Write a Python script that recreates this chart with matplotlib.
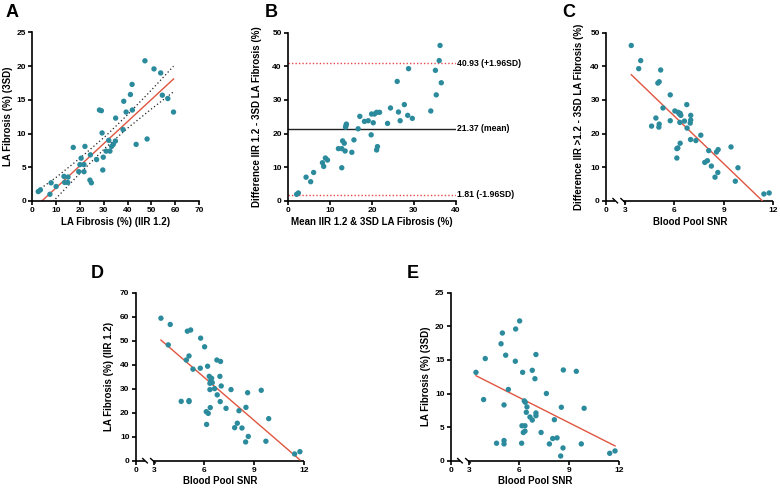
import matplotlib
matplotlib.use('Agg')
import matplotlib.pyplot as plt

# A: IIR 1.2 vs 3SD fibrosis
a_iir = [2.5, 3.4, 7.4, 7.9, 10.0, 13.3, 13.6, 14.9, 15.0, 17.2, 19.5, 20.5, 20.0, 21.7, 21.7, 22.1,
         24.4, 24.2, 24.8, 27.0, 28.2, 29.0, 29.3, 29.6, 29.8, 31.0, 32.1, 32.6, 33.3, 34.0, 34.9,
         35.0, 38.1, 38.4, 39.4, 41.2, 41.9, 42.0, 43.6, 47.3, 48.2, 51.1, 53.9, 54.6, 56.9, 59.3]
a_3sd = [1.4, 1.65, 1.0, 2.7, 2.15, 3.65, 2.75, 2.75, 3.55, 7.95, 4.35, 6.35, 5.4, 5.4, 4.35, 8.1,
         6.85, 3.1, 2.7, 6.15, 13.5, 13.4, 10.1, 4.6, 6.5, 7.4, 9.0, 7.4, 8.1, 8.4, 8.9,
         12.3, 10.6, 14.8, 13.2, 15.8, 17.3, 13.5, 8.4, 20.8, 9.2, 19.6, 19.0, 15.7, 15.2, 13.2]
a_fit_x = [4.0, 59.3]
a_fit_y = [0.0, 18.1]
a_band_x = [3.5, 10, 20, 31, 40, 50, 59.3]
a_band_hi = [1.85, 3.5, 6.35, 9.7, 12.8, 16.45, 20.0]
a_band_lo = [-2.2, 0.4, 4.1, 8.0, 10.8, 13.65, 16.2]

# B: Bland-Altman
b_mean = [2.06, 2.46, 4.3, 5.4, 6.1, 8.2, 8.5, 8.9, 9.4, 12.0, 12.8, 13.0, 13.4, 12.8, 13.6, 13.7,
          13.9, 13.8, 15.2, 15.7, 16.7, 17.1, 18.2, 19.1, 19.8, 19.9, 20.3, 20.6, 21.1, 21.8, 21.1,
          21.3, 23.7, 24.4, 26.0, 26.3, 26.7, 27.7, 28.5, 28.7, 29.6, 34.0, 35.1, 35.3, 36.0, 36.2, 36.5]
b_diff = [1.9, 2.3, 7.0, 5.65, 8.4, 11.3, 10.2, 12.7, 12.1, 15.5, 9.8, 17.8, 17.1, 15.5, 14.8, 21.9,
          22.8, 22.3, 14.4, 18.1, 21.4, 25.1, 23.6, 23.8, 19.6, 25.8, 23.2, 25.8, 26.3, 26.3, 15.1,
          16.1, 23.0, 27.6, 35.5, 26.4, 23.8, 28.6, 25.4, 39.3, 24.5, 26.7, 38.8, 31.5, 41.7, 46.2, 35.1]
b_lines = [40.93, 21.37, 1.81]
b_labels = ['40.93 (+1.96SD)', '21.37 (mean)', '1.81 (-1.96SD)']

# C: SNR vs difference
c_snr = [3.40, 3.97, 3.85, 5.18, 5.01, 5.09, 5.76, 5.32, 4.89, 4.63, 5.09, 5.07, 5.76, 6.04, 6.24,
         6.36, 6.40, 6.32, 6.76, 7.0, 7.0, 6.97, 6.62, 6.34, 6.78, 6.99, 7.31, 7.61, 6.36, 6.22,
         6.16, 6.16, 8.09, 9.44, 8.01, 7.85, 8.66, 8.56, 8.25, 8.64, 8.47, 9.86, 9.70, 11.43, 11.75]
c_diff = [46.2, 41.7, 39.3, 38.9, 35.0, 35.4, 31.5, 27.6, 24.6, 22.2, 22.8, 21.9, 23.8, 26.7, 26.3,
          26.0, 25.4, 25.8, 28.6, 25.4, 24.0, 23.1, 23.7, 23.3, 21.6, 18.2, 17.9, 19.5, 17.1, 15.7,
          15.5, 12.7, 14.9, 16.0, 11.9, 11.4, 15.2, 14.5, 10.3, 8.4, 7.0, 9.8, 5.8, 2.0, 2.3]
c_fit_x = [3.40, 11.33]
c_fit_y = [37.5, 0.0]

# D: SNR vs IIR 1.2
d_snr = [3.39, 3.95, 3.83, 4.98, 5.18, 5.78, 6.02, 4.92, 5.08, 5.32, 5.76, 6.20, 6.76, 6.98, 6.30,
         6.44, 6.38, 6.34, 6.48, 6.94, 7.02, 6.34, 6.62, 6.78, 6.96, 7.61, 8.61, 9.43, 4.61, 5.08,
         5.08, 6.36, 7.31, 8.09, 8.51, 6.12, 6.24, 6.14, 7.99, 7.83, 8.27, 9.88, 8.65, 8.49, 9.71,
         11.44, 11.76]
d_iir = [59.3, 56.7, 48.2, 53.9, 54.4, 51.0, 47.4, 41.9, 43.6, 38.1, 38.5, 39.3, 41.9, 41.3, 35.1,
         34.3, 33.2, 32.2, 32.5, 35.1, 31.1, 29.6, 30.0, 27.4, 24.6, 29.6, 28.3, 29.3, 24.7, 25.0,
         24.6, 22.1, 21.8, 20.8, 22.2, 20.4, 19.7, 15.1, 15.6, 13.75, 13.6, 17.5, 10.1, 7.8, 8.1,
         2.8, 3.75]
d_fit_x = [3.39, 11.75]
d_fit_y = [50.2, 0.4]

# E: SNR vs 3SD
e_snr = [3.39, 3.95, 3.85, 4.98, 4.90, 5.18, 5.78, 6.02, 5.76, 5.34, 5.08, 4.63, 5.08, 5.08, 6.20,
         6.78, 7.0, 6.94, 7.63, 8.65, 9.43, 6.30, 6.36, 6.46, 6.42, 6.64, 6.78, 7.0, 7.0, 6.34,
         6.16, 6.34, 6.24, 6.14, 7.31, 8.11, 8.53, 9.90, 8.01, 8.27, 7.81, 8.63, 8.49, 9.73, 11.44, 11.76]
e_3sd = [13.15, 15.2, 9.1, 19.0, 17.4, 15.7, 19.6, 20.8, 14.8, 10.6, 8.3, 2.6, 3.0, 2.5, 13.15,
         13.45, 15.8, 12.2, 10.0, 13.5, 13.3, 8.9, 8.7, 8.0, 7.2, 6.5, 6.05, 7.1, 6.7, 5.2,
         5.2, 4.4, 4.2, 2.6, 4.2, 6.1, 7.95, 7.8, 3.3, 3.4, 2.5, 1.9, 0.7, 2.5, 1.1, 1.45]
e_fit_x = [3.39, 11.76]
e_fit_y = [12.65, 2.2]

snr_ticks = ['0', '3', '6', '9', '12']

plt.rcParams['font.family'] = ['Liberation Sans', 'DejaVu Sans']
plt.rcParams['font.weight'] = 'bold'

W, H = 780, 492
DOT = '#2b8b9d'
RED = '#e0553f'
SPINE = 1.2
fig = plt.figure(figsize=(W / 100, H / 100), dpi=100)


def box(x0, x1, ytop, ybot):
    return [x0 / W, 1 - ybot / H, (x1 - x0) / W, (ybot - ytop) / H]


def ftext(x, y, s, **kw):
    fig.text(x / W, 1 - y / H, s, ha='center', va='center', **kw)


def style(ax):
    for s in ['top', 'right']:
        ax.spines[s].set_visible(False)
    for s in ['left', 'bottom']:
        ax.spines[s].set_linewidth(SPINE)
    ax.tick_params(width=SPINE, length=3, labelsize=6, pad=1.5)


def snr_axis(ax):
    # broken x axis like Prism: 0 then // then 3..12
    x0 = 1.87
    ax.set_xlim(x0, 12)
    ax.set_xticks([x0, 3, 6, 9, 12])
    ax.set_xticklabels(snr_ticks)
    ax.spines['bottom'].set_visible(False)
    tr = ax.get_xaxis_transform()
    ax.plot([x0, 2.43], [0, 0], transform=tr, color='k', lw=SPINE, clip_on=False, solid_capstyle='butt')
    ax.plot([2.91, 12], [0, 0], transform=tr, color='k', lw=SPINE, clip_on=False, solid_capstyle='butt')
    for xb in (2.43, 2.91):
        ax.plot([xb - 0.14, xb + 0.14], [0.013, -0.013], transform=tr, color='k', lw=1.0, clip_on=False)


def dots(ax, x, y):
    ax.scatter(x, y, s=15, color=DOT, edgecolors='none', zorder=3, clip_on=False)


# panel A
ax = fig.add_axes(box(32.3, 199, 32.5, 201))
style(ax)
ax.plot(a_band_x, a_band_hi, color='#222222', lw=0.9, ls=(0, (1, 2)))
ax.plot(a_band_x, a_band_lo, color='#222222', lw=0.9, ls=(0, (1, 2)))
ax.plot(a_fit_x, a_fit_y, color=RED, lw=1.0)
dots(ax, a_iir, a_3sd)
ax.set_xlim(0, 70)
ax.set_ylim(0, 25)
ax.set_xticks(range(0, 71, 10))
ax.set_yticks(range(0, 26, 5))

# panel B
ax = fig.add_axes(box(288, 456, 32.7, 200.7))
style(ax)
ax.axhline(b_lines[0], color='#e8474a', lw=1.0, ls=(0, (1, 1.5)))
ax.axhline(b_lines[1], color='#222222', lw=1.0)
ax.axhline(b_lines[2], color='#e8474a', lw=1.0, ls=(0, (1, 1.5)))
for v, s in zip(b_lines, b_labels):
    ax.text(40.2, v, s, fontsize=6.2, va='center', ha='left', clip_on=False)
dots(ax, b_mean, b_diff)
ax.set_xlim(0, 40)
ax.set_ylim(0, 50)
ax.set_xticks(range(0, 41, 10))
ax.set_yticks(range(0, 51, 10))

# panel C
ax = fig.add_axes(box(606, 773.3, 32.7, 200.7))
style(ax)
snr_axis(ax)
ax.plot(c_fit_x, c_fit_y, color=RED, lw=1.0)
dots(ax, c_snr, c_diff)
ax.set_ylim(0, 50)
ax.set_yticks(range(0, 51, 10))

# panel D
ax = fig.add_axes(box(135.7, 303.9, 292.5, 460.7))
style(ax)
snr_axis(ax)
ax.plot(d_fit_x, d_fit_y, color=RED, lw=1.0)
dots(ax, d_snr, d_iir)
ax.set_ylim(0, 70)
ax.set_yticks(range(0, 71, 10))

# panel E
ax = fig.add_axes(box(450.7, 619.0, 292.7, 460.7))
style(ax)
snr_axis(ax)
ax.plot(e_fit_x, e_fit_y, color=RED, lw=1.0)
dots(ax, e_snr, e_3sd)
ax.set_ylim(0, 25)
ax.set_yticks(range(0, 26, 5))

# axis titles
lab = dict(fontsize=7, fontweight='bold')
ftext(115.6, 222, 'LA Fibrosis (%) (IIR 1.2)', **lab)
ftext(8, 116.7, 'LA Fibrosis (%) (3SD)', rotation=90, **lab)
ftext(372, 222, 'Mean IIR 1.2 & 3SD LA Fibrosis (%)', **lab)
ftext(257, 116.7, 'Difference IIR 1.2 - 3SD LA Fibrosis (%)', rotation=90, **lab)
ftext(690, 222, 'Blood Pool SNR', **lab)
ftext(579, 116.7, 'Difference IIR >1.2 - 3SD LA Fibrosis (%)', rotation=90, **lab)
ftext(220, 481, 'Blood Pool SNR', **lab)
ftext(109, 376.6, 'LA Fibrosis (%) (IIR 1.2)', rotation=90, **lab)
ftext(535, 481, 'Blood Pool SNR', **lab)
ftext(426, 376.6, 'LA Fibrosis (%) (3SD)', rotation=90, **lab)

# panel letters
for s, x, y in [('A', 12, 12.5), ('B', 271, 12.5), ('C', 569, 12.5), ('D', 97, 273.5), ('E', 413, 273.5)]:
    ftext(x, y, s, fontsize=13, fontweight='bold')

fig.savefig('out.png', dpi=100)
